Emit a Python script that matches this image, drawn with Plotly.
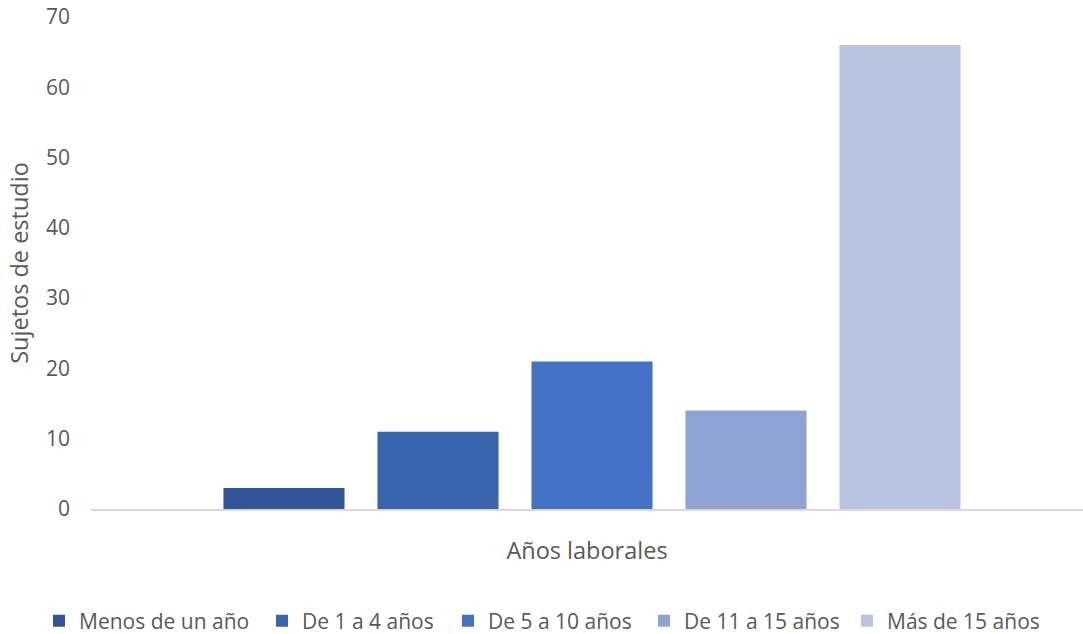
import plotly.graph_objects as go

# Años laborales de los sujetos de estudio
categoria = ["Años laborales"]
series = ["Menos de un año", "De 1 a 4 años", "De 5 a 10 años", "De 11 a 15 años", "Más de 15 años"]
valores = [3, 11, 21, 14, 66]
colores = ["#2F5597", "#3A64AD", "#4472C4", "#8FA2D4", "#B9C3E2"]

W, H = 1083, 634
font_fam = "'Open Sans', sans-serif"
gris = "#595959"
fs_tick = 21
fs_title = 23.5
fs_leg = 21

# start of each legend label (px from left) and text offset inside a legend box
leg_text_x = [79, 302, 488, 684, 887]
leg_text_offset = 40
leg_center_y = 621

fig = go.Figure()
leg_ids = ["legend"] + [f"legend{i}" for i in range(2, len(series) + 1)]
for nombre, v, c, lid in zip(series, valores, colores, leg_ids):
    fig.add_trace(go.Bar(name=nombre, x=[0], y=[v], marker=dict(color=c, line=dict(width=0)),
                         hoverinfo="name+y", legend=lid))

left_px = 91
plot_w = W - left_px
unit_px = 1002.0
r_right = -0.5 + plot_w / unit_px

legend_layouts = {}
for lid, tx in zip(leg_ids, leg_text_x):
    legend_layouts[lid] = dict(
        orientation="h", xref="container", yref="container",
        x=(tx - leg_text_offset) / W, xanchor="left",
        y=1 - leg_center_y / H, yanchor="middle",
        font=dict(size=fs_leg, color=gris), itemclick=False, itemwidth=30,
        bgcolor="rgba(0,0,0,0)",
    )

fig.update_layout(
    width=W, height=H,
    margin=dict(l=left_px, r=0, t=17, b=125, autoexpand=False),
    paper_bgcolor="white", plot_bgcolor="white",
    barmode="group", bargap=0.2315, bargroupgap=0.214,
    font=dict(family=font_fam, color=gris, size=fs_tick),
    showlegend=True,
    xaxis=dict(range=[-0.5, r_right], showticklabels=False, ticks="", showgrid=False,
               zeroline=False, showline=True, linecolor="#D9D9D9", linewidth=1.5,
               title=dict(text=categoria[0], font=dict(size=fs_title, color=gris), standoff=33)),
    yaxis=dict(range=[0, 70], dtick=10, showgrid=False, zeroline=False, showline=False,
               ticks="", tickfont=dict(size=fs_tick, color=gris), ticklabelstandoff=20,
               title=dict(text="Sujetos de estudio", font=dict(size=fs_title, color=gris), standoff=10)),
    **legend_layouts,
)

fig.write_html("out.html")
